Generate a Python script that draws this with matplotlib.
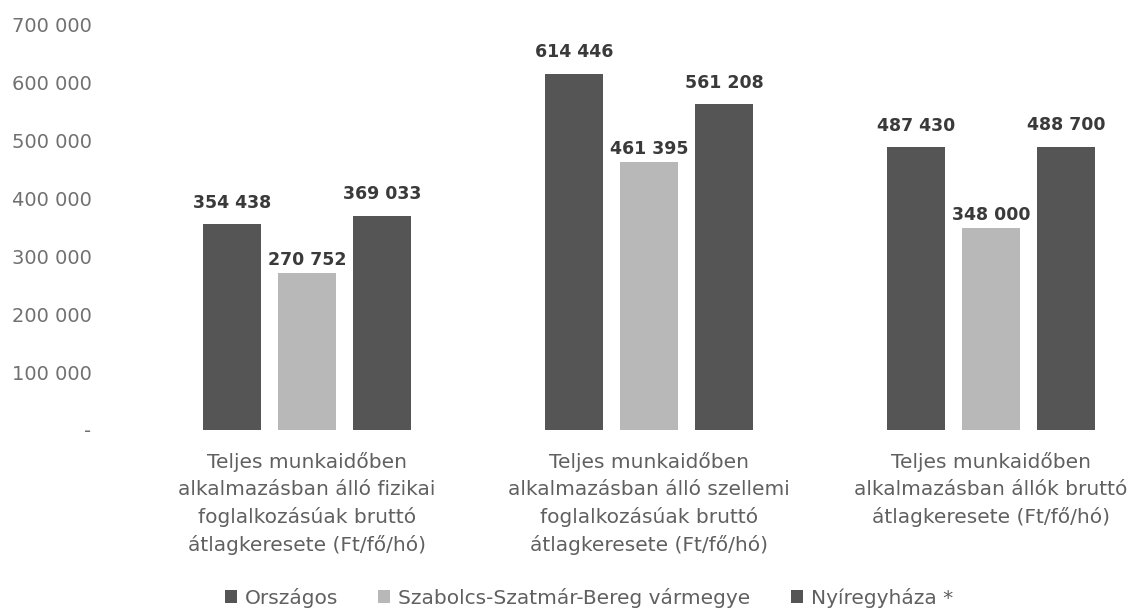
import matplotlib
matplotlib.use("Agg")
import matplotlib.pyplot as plt
import numpy as np

categories = [
    "Teljes munkaidőben\nalkalmazásban álló fizikai\nfoglalkozásúak bruttó\nátlagkeresete (Ft/fő/hó)",
    "Teljes munkaidőben\nalkalmazásban álló szellemi\nfoglalkozásúak bruttó\nátlagkeresete (Ft/fő/hó)",
    "Teljes munkaidőben\nalkalmazásban állók bruttó\nátlagkeresete (Ft/fő/hó)",
]
series_names = ["Országos", "Szabolcs-Szatmár-Bereg vármegye", "Nyíregyháza *"]
orszagos = [354438, 614446, 487430]
megye = [270752, 461395, 348000]
nyiregyhaza = [369033, 561208, 488700]
ytick_values = [0, 100000, 200000, 300000, 400000, 500000, 600000, 700000]
ytick_labels = ["-", "100 000", "200 000", "300 000", "400 000", "500 000", "600 000", "700 000"]

colors = ["#555555", "#b8b8b8", "#555555"]
label_offsets = [9, 3, 9]

W, H = 1137, 613
fig = plt.figure(figsize=(W / 100, H / 100), dpi=100)
ax = fig.add_axes([136 / W, 183 / H, 1001 / W, (589 - 183) / H])

x = np.arange(len(categories))
width = 58 / 342
offset = 75 / 342
data = [orszagos, megye, nyiregyhaza]
handles = []
for i, (vals, name) in enumerate(zip(data, series_names)):
    pos = x + (i - 1) * offset
    b = ax.bar(pos, vals, width, color=colors[i], label=name)
    handles.append(b)
    for p, v in zip(pos, vals):
        ax.annotate(f"{v:,}".replace(",", " "), (p, v), xytext=(0, label_offsets[i]),
                    textcoords="offset points", ha="center", va="bottom",
                    fontsize=12.5, fontweight="bold", color="#3a3a3a")

ax.set_xlim(-0.5, -0.5 + 1001 / 342)
ax.set_ylim(0, 700000)
ax.set_yticks(ytick_values)
ax.set_yticklabels(ytick_labels)
ax.set_xticks(x)
ax.set_xticklabels(categories, fontsize=14.5, color="#606060", linespacing=1.5)
for lab in ax.get_yticklabels():
    lab.set_fontsize(14)
    lab.set_color("#707070")
ax.tick_params(axis="y", length=0, pad=32)
ax.tick_params(axis="x", length=0, pad=16)
for s in ax.spines.values():
    s.set_visible(False)

fig.legend(handles=handles, labels=series_names, loc="center", bbox_to_anchor=(0.518, 0.025),
           ncol=3, frameon=False, fontsize=14.5, handlelength=0.6, handleheight=0.6,
           handletextpad=0.4, columnspacing=2.0, labelcolor="#606060")

fig.savefig("out.png", dpi=100)
